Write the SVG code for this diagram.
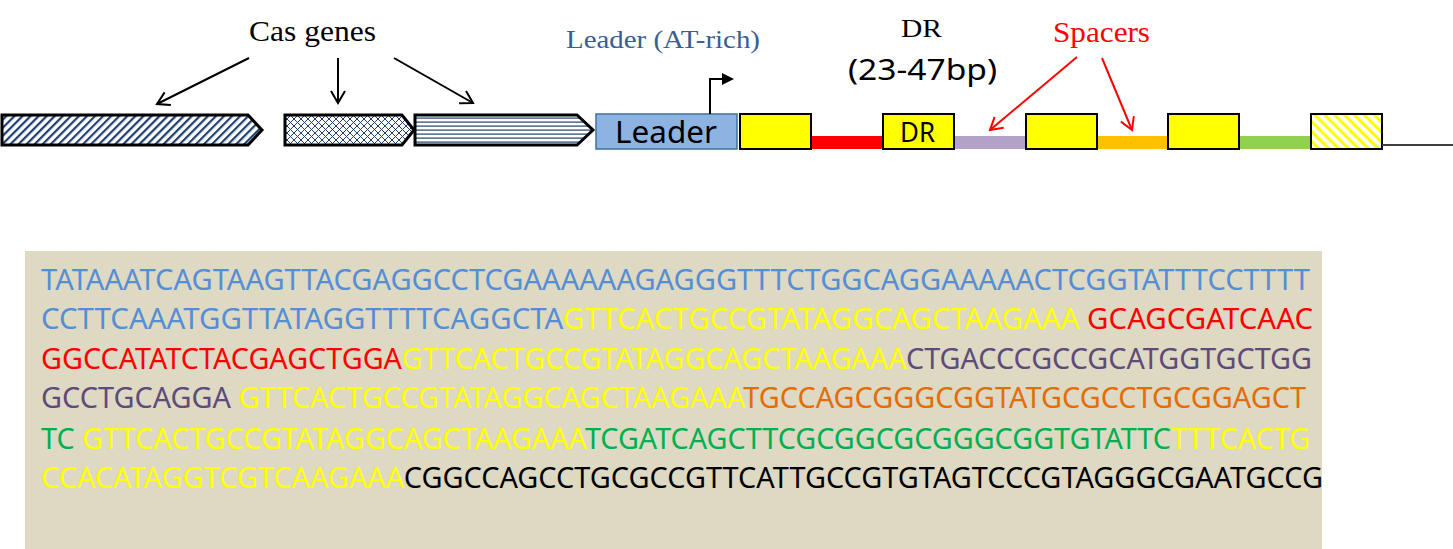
<svg xmlns="http://www.w3.org/2000/svg" width="1453" height="549" viewBox="0 0 1453 549">
<style>
.serif{font-family:"Liberation Serif","DejaVu Serif",serif;}
.sans{font-family:"Noto Sans","Open Sans","Liberation Sans",sans-serif;}
.gene{stroke:#000;stroke-width:3;stroke-linejoin:miter;}
.dr{fill:#FFFF00;stroke:#000;stroke-width:2;}
.arr{stroke:#000;stroke-width:2;fill:none;marker-end:url(#openArrow);}
.rarr{stroke:#FF0000;stroke-width:2;fill:none;marker-end:url(#openArrowRed);}
.seq{font-size:29px;}
.b{fill:#558ED5;} .y{fill:#FFFF00;} .r{fill:#FF0000;} .p{fill:#604A7B;} .o{fill:#E46C0A;} .g{fill:#00B050;} .k{fill:#000;}
</style>
<defs>
<marker id="openArrow" markerUnits="userSpaceOnUse" markerWidth="20" markerHeight="20" refX="14" refY="8" orient="auto">
<path d="M2,1 L14,8 L2,15" fill="none" stroke="#000" stroke-width="2"/>
</marker>
<marker id="openArrowRed" markerUnits="userSpaceOnUse" markerWidth="20" markerHeight="20" refX="14" refY="8" orient="auto">
<path d="M2,1 L14,8 L2,15" fill="none" stroke="#FF0000" stroke-width="2"/>
</marker>
<pattern id="diagNavy" patternUnits="userSpaceOnUse" width="5.7" height="10" patternTransform="rotate(45)">
<rect width="5.7" height="10" fill="#fff"/>
<rect width="2.2" height="10" fill="#1F3F70"/>
</pattern>
<pattern id="crossNavy" patternUnits="userSpaceOnUse" width="7" height="7">
<rect width="7" height="7" fill="#fff"/>
<path d="M0,0 L7,7 M7,0 L0,7" stroke="#1F3F70" stroke-width="1"/>
</pattern>
<pattern id="horizNavy" patternUnits="userSpaceOnUse" width="10" height="4">
<rect width="10" height="4" fill="#fff"/>
<rect y="1.5" width="10" height="1.2" fill="#1F3F70"/>
</pattern>
<pattern id="diagYellow" patternUnits="userSpaceOnUse" width="7" height="10" patternTransform="rotate(-45)">
<rect width="7" height="10" fill="#fff"/>
<rect width="3" height="10" fill="#FFFF00"/>
</pattern>
</defs>

<g id="cas-genes-label">
<text class="serif" x="249" y="41" font-size="30" textLength="127" lengthAdjust="spacingAndGlyphs">Cas genes</text>
</g>
<g id="cas-gene-1">
<polygon class="gene" points="2,115 248,115 262,130 248,145 2,145" fill="url(#diagNavy)"/>
</g>
<g id="cas-gene-2">
<polygon class="gene" points="285,115 402,115 414,130 402,145 285,145" fill="url(#crossNavy)"/>
</g>
<g id="cas-gene-3">
<polygon class="gene" points="415,115 577,115 593,130 577,145 415,145" fill="url(#horizNavy)"/>
</g>

<g id="leader-label">
<text class="serif" x="566" y="48" font-size="25" fill="#376092" textLength="194" lengthAdjust="spacingAndGlyphs">Leader (AT-rich)</text>
</g>
<g id="leader">
<rect x="596" y="114" width="141" height="35" fill="#8DB3E2" stroke="#41719C" stroke-width="1.5"/>
<text class="sans" x="615" y="143" font-size="31" fill="#000" textLength="102" lengthAdjust="spacingAndGlyphs">Leader</text>
</g>
<g id="promoter">
<path d="M710,114 V79 H723" fill="none" stroke="#000" stroke-width="2"/>
<polygon points="722,73 734,79 722,85" fill="#000"/>
</g>

<g id="dr-label">
<text class="serif" x="901" y="37" font-size="26" textLength="41" lengthAdjust="spacingAndGlyphs">DR</text>
<text class="sans" x="848" y="80" font-size="29" textLength="149" lengthAdjust="spacingAndGlyphs">(23-47bp)</text>
</g>
<g id="spacers-label">
<text class="serif" x="1053" y="42" font-size="30" fill="#FF0000" textLength="97" lengthAdjust="spacingAndGlyphs">Spacers</text>
</g>

<g id="spacer-1"><rect x="811" y="136" width="72" height="13" fill="#FF0000"/></g>
<g id="spacer-2"><rect x="954" y="136" width="72" height="13" fill="#B3A2C7"/></g>
<g id="spacer-3"><rect x="1097" y="136" width="71" height="13" fill="#FFC000"/></g>
<g id="spacer-4"><rect x="1239" y="136" width="72" height="13" fill="#92D050"/></g>

<g id="dr-1"><rect class="dr" x="740" y="114" width="71" height="35"/></g>
<g id="dr-2"><rect class="dr" x="883" y="114" width="71" height="35"/>
<text class="sans" x="900" y="142" font-size="27" textLength="35" lengthAdjust="spacingAndGlyphs">DR</text></g>
<g id="dr-3"><rect class="dr" x="1026" y="114" width="71" height="35"/></g>
<g id="dr-4"><rect class="dr" x="1168" y="114" width="71" height="35"/></g>
<g id="dr-5"><rect x="1311" y="114" width="71" height="35" fill="url(#diagYellow)" stroke="#000" stroke-width="2"/></g>
<g id="tail"><line x1="1382" y1="145" x2="1453" y2="145" stroke="#404040" stroke-width="2"/></g>

<g id="connectors">
<line class="arr" x1="249" y1="58" x2="157" y2="104"/>
<line class="arr" x1="338" y1="58" x2="338" y2="103"/>
<line class="arr" x1="394" y1="58" x2="473" y2="103"/>
<line class="rarr" x1="1077" y1="57" x2="990" y2="130"/>
<line class="rarr" x1="1102" y1="58" x2="1132" y2="130"/>
</g>

<g id="sequence">
<rect x="25" y="251" width="1297" height="298" fill="#DDD9C3"/>
<text class="sans seq" x="41" y="290" textLength="1269" lengthAdjust="spacingAndGlyphs"><tspan class="b">TATAAATCAGTAAGTTACGAGGCCTCGAAAAAAGAGGGTTTCTGGCAGGAAAAACTCGGTATTTCCTTTT</tspan></text>
<text class="sans seq" x="41" y="329" textLength="1272" lengthAdjust="spacingAndGlyphs"><tspan class="b">CCTTCAAATGGTTATAGGTTTTCAGGCTA</tspan><tspan class="y">GTTCACTGCCGTATAGGCAGCTAAGAAA</tspan><tspan class="r"> GCAGCGATCAAC</tspan></text>
<text class="sans seq" x="41" y="369" textLength="1271" lengthAdjust="spacingAndGlyphs"><tspan class="r">GGCCATATCTACGAGCTGGA</tspan><tspan class="y">GTTCACTGCCGTATAGGCAGCTAAGAAA</tspan><tspan class="p">CTGACCCGCCGCATGGTGCTGG</tspan></text>
<text class="sans seq" x="41" y="408" textLength="1265" lengthAdjust="spacingAndGlyphs"><tspan class="p">GCCTGCAGGA </tspan><tspan class="y">GTTCACTGCCGTATAGGCAGCTAAGAAA</tspan><tspan class="o">TGCCAGCGGGCGGTATGCGCCTGCGGAGCT</tspan></text>
<text class="sans seq" x="41" y="449" textLength="1269" lengthAdjust="spacingAndGlyphs"><tspan class="g">TC </tspan><tspan class="y">GTTCACTGCCGTATAGGCAGCTAAGAAA</tspan><tspan class="g">TCGATCAGCTTCGCGGCGCGGGCGGTGTATTC</tspan><tspan class="y">TTTCACTG</tspan></text>
<text class="sans seq" x="41" y="488" textLength="1282" lengthAdjust="spacingAndGlyphs"><tspan class="y">CCACATAGGTCGTCAAGAAA</tspan><tspan class="k">CGGCCAGCCTGCGCCGTTCATTGCCGTGTAGTCCCGTAGGGCGAATGCCG</tspan></text>
</g>
</svg>
